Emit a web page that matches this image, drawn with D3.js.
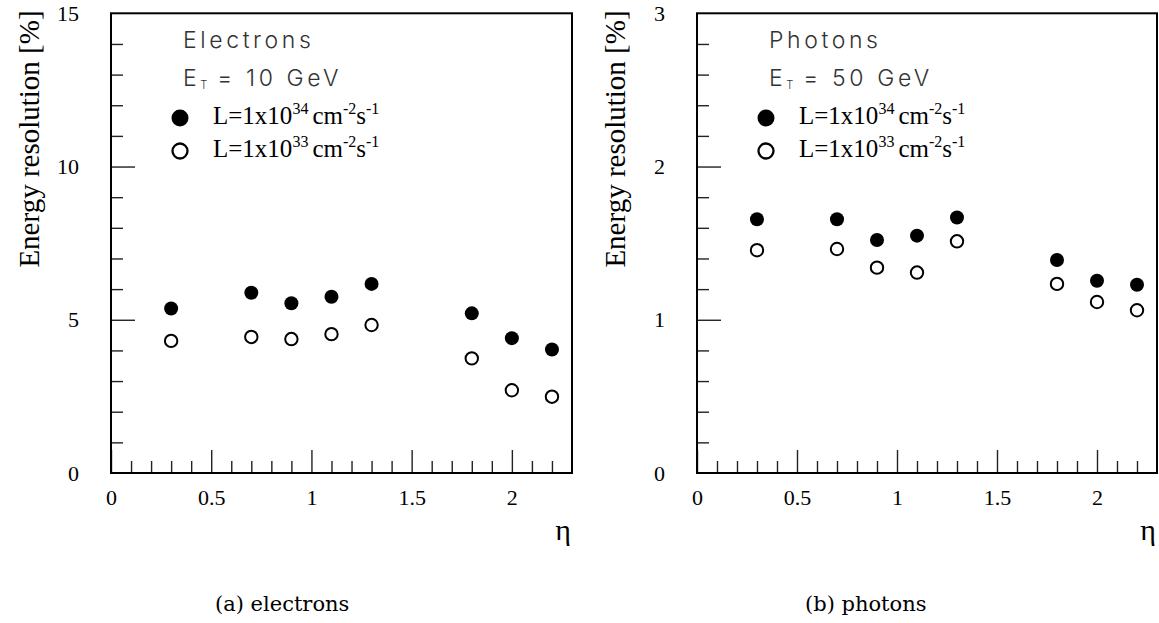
<!DOCTYPE html>
<html>
<head>
<meta charset="utf-8">
<script src="https://cdn.jsdelivr.net/npm/d3@7"></script>
<style>
  body { margin: 0; background: #fff; }
  svg { display: block; }
  .tick text { font-family: "Liberation Serif", "Times New Roman", serif; font-size: 22px; fill: #000; }
  .tick line { stroke: #222; stroke-width: 1.4; }
  .domain { display: none; }
</style>
</head>
<body>
<svg width="1159" height="623"></svg>
<script>
// eta bins
var eta = [0.3, 0.7, 0.9, 1.1, 1.3, 1.8, 2.0, 2.2];

// electrons, ET = 10 GeV
var elecHighLumi = [5.37, 5.88, 5.54, 5.75, 6.17, 5.21, 4.40, 4.03];
var elecLowLumi  = [4.31, 4.44, 4.37, 4.53, 4.83, 3.74, 2.70, 2.49];

// photons, ET = 50 GeV
var photHighLumi = [1.656, 1.656, 1.521, 1.549, 1.667, 1.390, 1.255, 1.229];
var photLowLumi  = [1.454, 1.462, 1.340, 1.308, 1.512, 1.234, 1.116, 1.062];

var xMajorTicks = [0, 0.5, 1, 1.5, 2];
var elecYTicks = [0, 5, 10, 15];
var photYTicks = [0, 1, 2, 3];

var svg = d3.select("svg");

function drawPanel(opts) {
    var left = opts.left, top = 13.3, bottom = 473, right = opts.right;

    var x = d3.scaleLinear().domain([0, 2.3]).range([left, right]);
    var y = d3.scaleLinear().domain([0, opts.yMax]).range([bottom, top]);

    var g = svg.append("g");

    // minor x ticks every 0.1
    var xMinor = d3.range(1, 23).map(function(i) { return i / 10; })
        .filter(function(v) { return Math.abs(v * 2 - Math.round(v * 2)) > 1e-6; });
    g.append("g")
        .attr("transform", "translate(0," + bottom + ")")
        .call(d3.axisBottom(x).tickValues(xMinor).tickSize(-12).tickFormat(""));
    g.append("g")
        .attr("transform", "translate(0," + bottom + ")")
        .call(d3.axisBottom(x).tickValues(xMajorTicks).tickSize(-23).tickPadding(16)
              .tickFormat(d3.format("")));

    // minor y ticks
    var yMinor = d3.range(1, 15).map(function(i) { return i * opts.yMax / 15; })
        .filter(function(v) { return opts.yMajor.indexOf(Math.round(v * 1000) / 1000) < 0; });
    g.append("g")
        .attr("transform", "translate(" + left + ",0)")
        .call(d3.axisLeft(y).tickValues(yMinor).tickSize(-12).tickFormat(""));
    var yAx = g.append("g")
        .attr("transform", "translate(" + left + ",0)")
        .call(d3.axisLeft(y).tickValues(opts.yMajor).tickSize(-24).tickPadding(32)
              .tickFormat(d3.format("")));
    yAx.selectAll(".tick").filter(function(d) { return d === 0 || d === opts.yMax; })
        .select("line").remove();

    // frame
    g.append("rect")
        .attr("x", left).attr("y", top)
        .attr("width", right - left).attr("height", bottom - top)
        .attr("fill", "none").attr("stroke", "#000").attr("stroke-width", 2);

    // y title
    g.append("text")
        .attr("transform", "translate(" + (left - 72) + "," + 139 + ") rotate(-90)")
        .attr("text-anchor", "middle")
        .style("font-family", "Liberation Serif, Times New Roman, serif")
        .style("font-size", "29px")
        .text("Energy resolution [%]");

    // eta label
    g.append("text")
        .attr("x", right - 1).attr("y", 540)
        .attr("text-anchor", "end")
        .style("font-family", "Liberation Serif, Times New Roman, serif")
        .style("font-size", "30px")
        .text("\u03b7");

    // title lines
    var thin = "Inter, Roboto, DejaVu Sans, sans-serif";
    g.append("text")
        .attr("x", left + 72).attr("y", 48)
        .style("font-family", thin).style("font-size", "23px")
        .style("font-weight", 300).style("letter-spacing", "3.6px")
        .attr("fill", "#333")
        .text(opts.title);
    var t2 = g.append("text")
        .attr("x", left + 72).attr("y", 86)
        .style("font-family", thin).style("font-size", "23px")
        .style("font-weight", 300).style("letter-spacing", "3.6px")
        .attr("fill", "#333");
    t2.append("tspan").text("E");
    t2.append("tspan").attr("dy", 3).style("font-size", "11px").style("letter-spacing", "0px").text("T");
    t2.append("tspan").attr("dy", -3).attr("xml:space", "preserve").text(" = " + opts.energy + " GeV");

    // legend
    var legend = [
        { filled: true, exp: "34", y: 118 },
        { filled: false, exp: "33", y: 151 }
    ];
    legend.forEach(function(l) {
        g.append("circle")
            .attr("cx", left + 69).attr("cy", l.y).attr("r", l.filled ? 8.5 : 7.5)
            .attr("fill", l.filled ? "#000" : "#fff")
            .attr("stroke", "#000").attr("stroke-width", l.filled ? 0 : 2.3);
        var t = g.append("text")
            .attr("x", left + 102).attr("y", l.y + 6)
            .style("font-family", "Liberation Serif, Times New Roman, serif")
            .style("font-size", "25px");
        t.append("tspan").text("L=1x10");
        t.append("tspan").attr("dy", -10).style("font-size", "16px").text(l.exp);
        t.append("tspan").attr("dy", 10).attr("dx", 4).text("cm");
        t.append("tspan").attr("dy", -10).style("font-size", "16px").text("-2");
        t.append("tspan").attr("dy", 10).text("s");
        t.append("tspan").attr("dy", -10).style("font-size", "16px").text("-1");
    });

    // data points
    g.selectAll(".hi").data(opts.high).enter().append("circle")
        .attr("class", "hi")
        .attr("cx", function(d, i) { return x(eta[i]); })
        .attr("cy", function(d) { return y(d); })
        .attr("r", 7)
        .attr("fill", "#000");
    g.selectAll(".lo").data(opts.low).enter().append("circle")
        .attr("class", "lo")
        .attr("cx", function(d, i) { return x(eta[i]); })
        .attr("cy", function(d) { return y(d); })
        .attr("r", 6.2)
        .attr("fill", "#fff")
        .attr("stroke", "#000")
        .attr("stroke-width", 2);

    // caption
    svg.append("text")
        .attr("x", opts.capX).attr("y", 611)
        .style("font-family", "DejaVu Serif, serif")
        .style("font-size", "21px")
        .text(opts.caption);
}

drawPanel({ left: 111, right: 572, yMax: 15, yMajor: elecYTicks, high: elecHighLumi, low: elecLowLumi,
            title: "Electrons", energy: "10", caption: "(a) electrons", capX: 215 });
drawPanel({ left: 697, right: 1157, yMax: 3, yMajor: photYTicks, high: photHighLumi, low: photLowLumi,
            title: "Photons", energy: "50", caption: "(b) photons", capX: 805 });
</script>
</body>
</html>
